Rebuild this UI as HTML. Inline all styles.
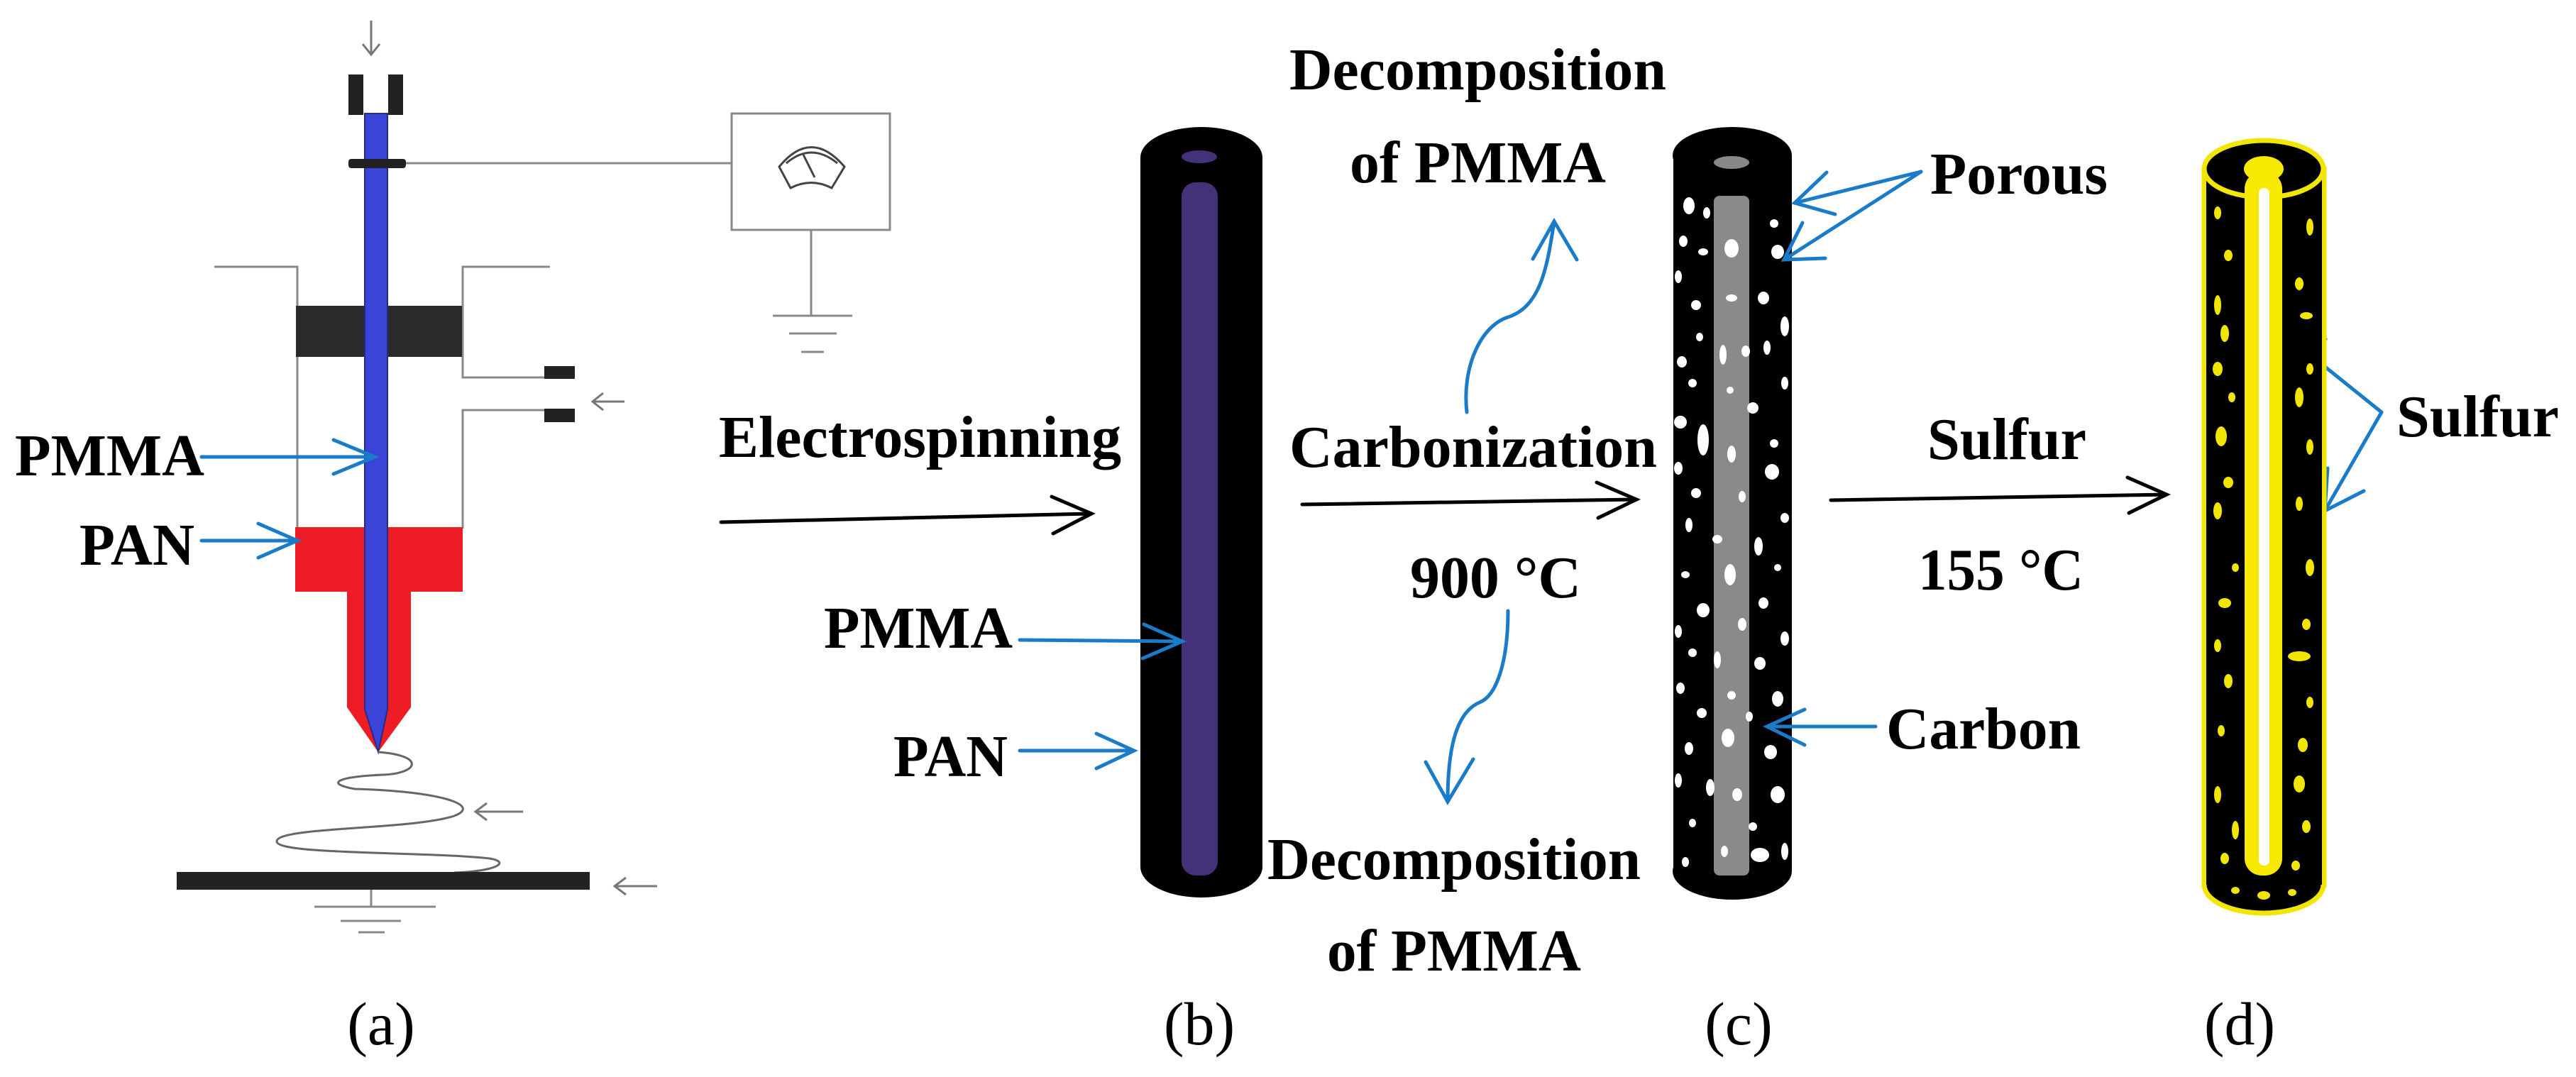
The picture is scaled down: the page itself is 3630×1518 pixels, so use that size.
<!DOCTYPE html>
<html><head><meta charset="utf-8"><style>
html,body{margin:0;padding:0;background:#fff;}
svg{display:block;}
text{font-family:"Liberation Serif",serif;}
.b{font-weight:bold;font-size:84px;fill:#000;}
.r{font-size:86px;fill:#000;}
</style></head><body>
<svg width="3630" height="1518" viewBox="0 0 3630 1518" xmlns="http://www.w3.org/2000/svg">
<defs>
<marker id="bl" viewBox="0 0 20 20" refX="18" refY="10" markerWidth="12" markerHeight="12" markerUnits="userSpaceOnUse" orient="auto"></marker>
</defs>
<!-- ===== Panel (a) ===== -->
<!-- top arrow -->
<g stroke="#777" stroke-width="3" fill="none">
<line x1="523" y1="29" x2="523" y2="77"/><polyline points="511,62 523,77 535,62"/>
<line x1="880" y1="566" x2="835" y2="566"/><polyline points="850,554 835,566 850,578"/>
<line x1="737" y1="1144" x2="670" y2="1144"/><polyline points="686,1132 670,1144 686,1156"/>
<line x1="926" y1="1249" x2="866" y2="1249"/><polyline points="882,1237 866,1249 882,1261"/>
</g>
<!-- clamp -->
<rect x="491" y="105" width="21" height="57" fill="#222"/>
<rect x="547" y="105" width="21" height="57" fill="#222"/>
<!-- syringe outline -->
<g stroke="#888" stroke-width="3" fill="none">
<polyline points="302,376 419,376 419,745"/>
<polyline points="775,376 652,376 652,532 772,532"/>
<polyline points="772,578 652,578 652,745"/>
<line x1="560" y1="230" x2="1031" y2="230"/>
<rect x="1031" y="160" width="223" height="164"/>
<line x1="1143" y1="324" x2="1143" y2="445"/>
<line x1="1089" y1="445" x2="1201" y2="445"/>
<line x1="1112" y1="470" x2="1179" y2="470"/>
<line x1="1129" y1="496" x2="1161" y2="496"/>
<line x1="523" y1="1254" x2="523" y2="1278"/>
<line x1="443" y1="1278" x2="614" y2="1278"/>
<line x1="480" y1="1298" x2="565" y2="1298"/>
<line x1="505" y1="1314" x2="542" y2="1314"/>
</g>
<!-- gauge -->
<g stroke="#444" stroke-width="3" fill="none">
<path d="M1098 235 Q1143 180 1190 235 L1172 265 Q1143 250 1114 265 Z"/>
<path d="M1108 230 Q1143 200 1180 230"/>
<line x1="1132" y1="218" x2="1148" y2="250"/>
</g>
<rect x="767" y="516" width="43" height="18" fill="#222"/>
<rect x="767" y="576" width="43" height="19" fill="#222"/>
<rect x="417" y="431" width="234" height="72" fill="#2a2a2a"/>
<!-- red -->
<path d="M416 743 H652 V834 H579 V997 L533 1060 L489 997 V834 H416 Z" fill="#ee1c24"/>
<!-- blue needle -->
<path d="M514 160 H546 V1000 L533 1060 L514 1000 Z" fill="#3a44d8" stroke="#2a2a80" stroke-width="2"/>
<rect x="491" y="224" width="81" height="13" rx="4" fill="#222"/>
<!-- spiral -->
<path d="M533 1060 C600 1065,590 1090,540 1092 C470 1095,460 1105,500 1112 C620 1115,680 1135,640 1150 C580 1170,390 1165,390 1186 C390 1205,600 1200,690 1210 C720 1215,700 1228,640 1230" fill="none" stroke="#666" stroke-width="3"/>
<rect x="249" y="1229" width="582" height="25" fill="#222"/>
<!-- labels a -->
<text class="b" x="21" y="670" textLength="267" lengthAdjust="spacingAndGlyphs">PMMA</text>
<text class="b" x="112" y="796" textLength="162" lengthAdjust="spacingAndGlyphs">PAN</text>
<g stroke="#1a7cc8" stroke-width="5" fill="none" stroke-linecap="round">
<line x1="284" y1="644" x2="528" y2="644"/><polyline points="470,620 528,644 470,668"/>
<line x1="284" y1="762" x2="419" y2="762"/><polyline points="364,738 419,762 364,786"/>
</g>
<text class="r" x="537" y="1472" text-anchor="middle">(a)</text>

<!-- ===== Panel (b) ===== -->
<text class="b" x="1013" y="644" textLength="567" lengthAdjust="spacingAndGlyphs">Electrospinning</text>
<g stroke="#000" stroke-width="5" fill="none" stroke-linecap="round">
<line x1="1016" y1="736" x2="1538" y2="724"/><polyline points="1482,700 1538,724 1484,752"/>
<line x1="1835" y1="711" x2="2306" y2="704"/><polyline points="2250,680 2306,704 2252,730"/>
<line x1="2580" y1="705" x2="3053" y2="697"/><polyline points="2998,673 3053,697 3000,723"/>
</g>
<!-- tube b -->
<rect x="1607" y="222" width="172" height="1000" fill="#000"/>
<ellipse cx="1693" cy="222" rx="86" ry="43" fill="#000"/>
<ellipse cx="1693" cy="1222" rx="86" ry="43" fill="#000"/>
<ellipse cx="1690" cy="221" rx="25" ry="9" fill="#43327a"/>
<rect x="1665" y="257" width="51" height="977" rx="20" fill="#43327a"/>
<text class="b" x="1161" y="913" textLength="266" lengthAdjust="spacingAndGlyphs">PMMA</text>
<text class="b" x="1259" y="1094" textLength="161" lengthAdjust="spacingAndGlyphs">PAN</text>
<g stroke="#1a7cc8" stroke-width="5" fill="none" stroke-linecap="round">
<line x1="1437" y1="902" x2="1666" y2="904"/><polyline points="1612,880 1666,904 1610,928"/>
<line x1="1437" y1="1058" x2="1598" y2="1058"/><polyline points="1545,1034 1598,1058 1545,1083"/>
<path d="M2067 581 C2060 520,2085 460,2125 447 C2170 432,2180 380,2190 312"/>
<polyline points="2160,365 2190,312 2222,366"/>
<path d="M2125 861 C2125 930,2110 980,2085 990 C2050 1005,2040 1060,2040 1130"/>
<polyline points="2009,1074 2040,1130 2076,1070"/>
</g>
<text class="b" x="1817" y="126" textLength="531" lengthAdjust="spacingAndGlyphs">Decomposition</text>
<text class="b" x="1902" y="257" textLength="361" lengthAdjust="spacingAndGlyphs">of PMMA</text>
<text class="b" x="1817" y="658" textLength="518" lengthAdjust="spacingAndGlyphs">Carbonization</text>
<text class="b" x="1987" y="842" textLength="241" lengthAdjust="spacingAndGlyphs">900 °C</text>
<text class="b" x="1786" y="1239" textLength="526" lengthAdjust="spacingAndGlyphs">Decomposition</text>
<text class="b" x="1870" y="1368" textLength="358" lengthAdjust="spacingAndGlyphs">of PMMA</text>
<text class="r" x="1690" y="1472" text-anchor="middle">(b)</text>

<!-- ===== Panel (c) ===== -->
<rect x="2358" y="219" width="167" height="1009" fill="#000"/>
<ellipse cx="2441" cy="219" rx="84" ry="40" fill="#000"/>
<ellipse cx="2441" cy="1228" rx="84" ry="40" fill="#000"/>
<ellipse cx="2440" cy="229" rx="25" ry="9" fill="#888"/>
<rect x="2415" y="276" width="50" height="958" rx="8" fill="#8a8a8a"/>
<g fill="#fff">
<ellipse cx="2380" cy="290" rx="8" ry="12"/><ellipse cx="2405" cy="300" rx="5" ry="8"/><ellipse cx="2372" cy="340" rx="6" ry="8"/>
<ellipse cx="2400" cy="355" rx="7" ry="5"/><ellipse cx="2500" cy="315" rx="6" ry="6"/><ellipse cx="2505" cy="355" rx="9" ry="10"/>
<ellipse cx="2440" cy="350" rx="10" ry="13"/><ellipse cx="2365" cy="390" rx="5" ry="9"/><ellipse cx="2390" cy="430" rx="7" ry="7"/>
<ellipse cx="2485" cy="420" rx="8" ry="9"/><ellipse cx="2515" cy="460" rx="6" ry="14"/><ellipse cx="2440" cy="420" rx="8" ry="5"/>
<ellipse cx="2395" cy="475" rx="5" ry="6"/><ellipse cx="2370" cy="510" rx="7" ry="8"/><ellipse cx="2428" cy="500" rx="5" ry="14"/>
<ellipse cx="2460" cy="495" rx="6" ry="8"/><ellipse cx="2490" cy="490" rx="5" ry="10"/><ellipse cx="2385" cy="540" rx="6" ry="6"/>
<ellipse cx="2515" cy="540" rx="5" ry="9"/><ellipse cx="2438" cy="550" rx="5" ry="5"/><ellipse cx="2470" cy="575" rx="8" ry="8"/>
<ellipse cx="2368" cy="595" rx="9" ry="9"/><ellipse cx="2400" cy="620" rx="8" ry="22"/><ellipse cx="2500" cy="625" rx="6" ry="6"/>
<ellipse cx="2440" cy="640" rx="6" ry="12"/><ellipse cx="2365" cy="660" rx="6" ry="9"/><ellipse cx="2497" cy="665" rx="10" ry="11"/>
<ellipse cx="2390" cy="695" rx="7" ry="7"/><ellipse cx="2455" cy="700" rx="5" ry="8"/><ellipse cx="2380" cy="740" rx="5" ry="10"/>
<ellipse cx="2515" cy="730" rx="6" ry="7"/><ellipse cx="2420" cy="760" rx="7" ry="6"/><ellipse cx="2478" cy="770" rx="6" ry="13"/>
<ellipse cx="2438" cy="810" rx="8" ry="15"/><ellipse cx="2375" cy="810" rx="6" ry="5"/><ellipse cx="2505" cy="800" rx="5" ry="5"/>
<ellipse cx="2400" cy="860" rx="9" ry="10"/><ellipse cx="2485" cy="850" rx="7" ry="8"/><ellipse cx="2365" cy="890" rx="5" ry="9"/>
<ellipse cx="2455" cy="880" rx="6" ry="9"/><ellipse cx="2515" cy="900" rx="6" ry="10"/><ellipse cx="2385" cy="920" rx="6" ry="6"/>
<ellipse cx="2420" cy="930" rx="5" ry="12"/><ellipse cx="2480" cy="935" rx="8" ry="9"/><ellipse cx="2368" cy="970" rx="6" ry="8"/>
<ellipse cx="2440" cy="980" rx="6" ry="6"/><ellipse cx="2505" cy="985" rx="8" ry="11"/><ellipse cx="2398" cy="1005" rx="7" ry="7"/>
<ellipse cx="2465" cy="1010" rx="5" ry="7"/><ellipse cx="2435" cy="1040" rx="9" ry="13"/><ellipse cx="2380" cy="1055" rx="6" ry="9"/>
<ellipse cx="2495" cy="1060" rx="9" ry="10"/><ellipse cx="2365" cy="1100" rx="5" ry="10"/><ellipse cx="2410" cy="1110" rx="6" ry="12"/>
<ellipse cx="2448" cy="1120" rx="7" ry="9"/><ellipse cx="2505" cy="1120" rx="10" ry="12"/><ellipse cx="2385" cy="1160" rx="5" ry="6"/>
<ellipse cx="2470" cy="1165" rx="6" ry="6"/><ellipse cx="2430" cy="1200" rx="5" ry="8"/><ellipse cx="2480" cy="1205" rx="13" ry="10"/>
<ellipse cx="2515" cy="1200" rx="5" ry="12"/><ellipse cx="2375" cy="1215" rx="5" ry="7"/>
</g>
<text class="b" x="2720" y="273" textLength="250" lengthAdjust="spacingAndGlyphs">Porous</text>
<text class="b" x="2658" y="1055" textLength="274" lengthAdjust="spacingAndGlyphs">Carbon</text>
<text class="b" x="2716" y="647" textLength="224" lengthAdjust="spacingAndGlyphs">Sulfur</text>
<text class="b" x="2703" y="831" textLength="233" lengthAdjust="spacingAndGlyphs">155 °C</text>
<g stroke="#1a7cc8" stroke-width="5" fill="none" stroke-linecap="round">
<line x1="2707" y1="242" x2="2529" y2="286"/><polyline points="2574,243 2529,286 2586,302"/>
<line x1="2707" y1="242" x2="2514" y2="366"/><polyline points="2540,314 2514,366 2572,364"/>
<line x1="2643" y1="1024" x2="2490" y2="1024"/><polyline points="2543,1000 2490,1024 2543,1050"/>
<line x1="3356" y1="581" x2="3213" y2="466"/><polyline points="3277,478 3213,466 3236,527"/>
<line x1="3356" y1="581" x2="3276" y2="720"/><polyline points="3331,692 3276,720 3280,660"/>
</g>
<text class="r" x="2450" y="1472" text-anchor="middle">(c)</text>

<!-- ===== Panel (d) ===== -->
<rect x="3106" y="238" width="169" height="1009" fill="#000" stroke="#f2e600" stroke-width="7"/>
<ellipse cx="3190" cy="1247" rx="84" ry="40" fill="#000" stroke="#f2e600" stroke-width="7"/>
<rect x="3109" y="238" width="163" height="1009" fill="#000"/>
<ellipse cx="3190" cy="238" rx="84" ry="40" fill="#000" stroke="#f2e600" stroke-width="7"/>
<ellipse cx="3190" cy="238" rx="28" ry="18" fill="#f7ea00"/>
<rect x="3163" y="242" width="53" height="992" rx="24" fill="#f7ea00"/>
<rect x="3183" y="265" width="15" height="955" rx="7" fill="#fff"/>
<g fill="#f2e600">
<ellipse cx="3125" cy="300" rx="5" ry="9"/><ellipse cx="3255" cy="320" rx="5" ry="12"/><ellipse cx="3140" cy="360" rx="6" ry="8"/>
<ellipse cx="3240" cy="400" rx="6" ry="9"/><ellipse cx="3125" cy="430" rx="5" ry="14"/><ellipse cx="3250" cy="445" rx="9" ry="5"/>
<ellipse cx="3135" cy="470" rx="6" ry="12"/><ellipse cx="3125" cy="520" rx="7" ry="10"/><ellipse cx="3255" cy="520" rx="5" ry="8"/>
<ellipse cx="3145" cy="560" rx="5" ry="7"/><ellipse cx="3240" cy="560" rx="6" ry="14"/><ellipse cx="3130" cy="615" rx="8" ry="14"/>
<ellipse cx="3255" cy="630" rx="5" ry="11"/><ellipse cx="3140" cy="680" rx="7" ry="8"/><ellipse cx="3240" cy="710" rx="5" ry="10"/>
<ellipse cx="3125" cy="720" rx="6" ry="12"/><ellipse cx="3150" cy="800" rx="5" ry="6"/><ellipse cx="3255" cy="800" rx="6" ry="12"/>
<ellipse cx="3135" cy="850" rx="9" ry="7"/><ellipse cx="3250" cy="880" rx="6" ry="8"/><ellipse cx="3125" cy="910" rx="5" ry="9"/>
<ellipse cx="3240" cy="925" rx="16" ry="7"/><ellipse cx="3140" cy="960" rx="6" ry="10"/><ellipse cx="3255" cy="990" rx="5" ry="8"/>
<ellipse cx="3130" cy="1030" rx="5" ry="8"/><ellipse cx="3245" cy="1050" rx="7" ry="10"/><ellipse cx="3240" cy="1105" rx="8" ry="12"/>
<ellipse cx="3125" cy="1120" rx="5" ry="12"/><ellipse cx="3150" cy="1170" rx="5" ry="13"/><ellipse cx="3250" cy="1165" rx="6" ry="9"/>
<ellipse cx="3135" cy="1210" rx="6" ry="8"/><ellipse cx="3235" cy="1220" rx="6" ry="7"/><ellipse cx="3190" cy="1262" rx="9" ry="6"/>
<ellipse cx="3150" cy="1255" rx="6" ry="5"/><ellipse cx="3230" cy="1258" rx="6" ry="5"/>
</g>
<text class="b" x="3377" y="615" textLength="229" lengthAdjust="spacingAndGlyphs">Sulfur</text>
<text class="r" x="3156" y="1472" text-anchor="middle">(d)</text>
</svg>
</body></html>
